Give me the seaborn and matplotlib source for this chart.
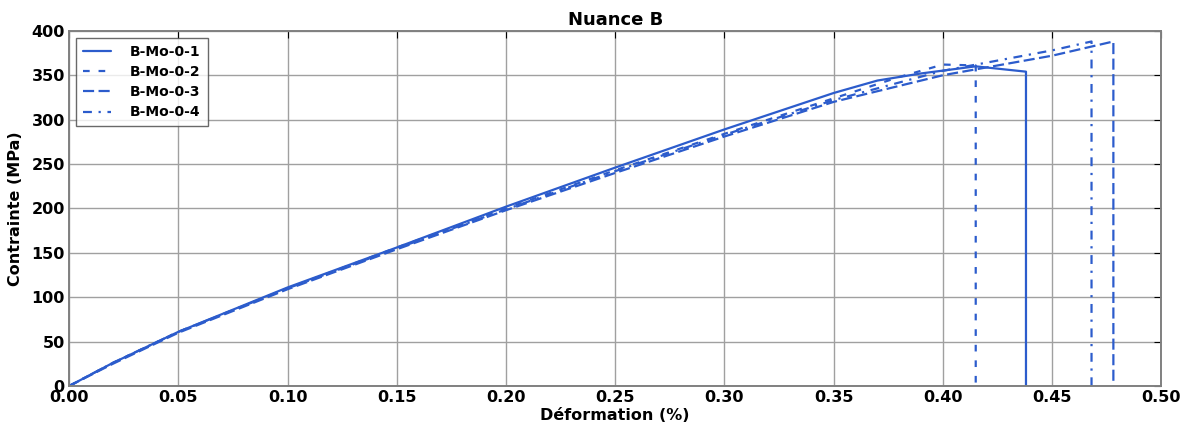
import matplotlib
matplotlib.use("Agg")
import matplotlib.pyplot as plt
import seaborn as sns
import pandas as pd

# ---- data ----
labels = ["B-Mo-0-1", "B-Mo-0-2", "B-Mo-0-3", "B-Mo-0-4"]

strain_1 = [0, 0.02, 0.05, 0.10, 0.15, 0.20, 0.25, 0.30, 0.35, 0.37, 0.39, 0.415, 0.438, 0.438]
stress_1 = [0, 26, 61, 111, 156, 202, 246, 289, 330, 344, 352, 360, 354, 0]

strain_2 = [0, 0.02, 0.05, 0.10, 0.15, 0.20, 0.25, 0.30, 0.35, 0.38, 0.40, 0.415, 0.415]
stress_2 = [0, 26, 61, 110, 156, 200, 243, 284, 324, 348, 362, 361, 0]

strain_3 = [0, 0.02, 0.05, 0.10, 0.15, 0.20, 0.25, 0.30, 0.35, 0.40, 0.45, 0.478, 0.478]
stress_3 = [0, 25, 60, 109, 154, 198, 240, 281, 320, 350, 372, 388, 0]

strain_4 = [0, 0.02, 0.05, 0.10, 0.15, 0.20, 0.25, 0.30, 0.35, 0.40, 0.45, 0.468, 0.468]
stress_4 = [0, 26, 61, 110, 155, 199, 242, 283, 322, 355, 378, 388, 0]

strains = [strain_1, strain_2, strain_3, strain_4]
stresses = [stress_1, stress_2, stress_3, stress_4]
dash_styles = ["-", (0, (3, 4)), (0, (5, 2)), (0, (4, 3, 1, 3))]
color = "#2c5ccc"

sns.set_style("white")
plt.rcParams["font.family"] = ["DejaVu Sans"]
plt.rcParams["font.weight"] = "bold"
plt.rcParams["text.color"] = "black"
plt.rcParams["axes.labelcolor"] = "black"
plt.rcParams["xtick.color"] = "black"
plt.rcParams["ytick.color"] = "black"

fig = plt.figure(figsize=(11.9, 4.28), dpi=100)
ax = fig.add_axes([0.058, 0.098, 0.918, 0.830])

for lab, xs, ys, ls in zip(labels, strains, stresses, dash_styles):
    df = pd.DataFrame({"x": xs, "y": ys})
    sns.lineplot(data=df, x="x", y="y", ax=ax, color=color, linestyle=ls,
                 linewidth=1.6, label=lab, sort=False, estimator=None)

ax.set_xlim(0, 0.5)
ax.set_ylim(0, 400)
ax.set_xticks([i * 0.05 for i in range(11)])
ax.set_xticklabels([f"{i*0.05:.2f}" for i in range(11)])
ax.set_yticks(range(0, 401, 50))
ax.grid(True, color="#a0a0a0", linestyle="-", linewidth=1.0)
ax.tick_params(direction="in", labelsize=11.5, length=5, top=True, right=True, pad=3,
               colors="black")
for t in ax.get_xticklabels() + ax.get_yticklabels():
    t.set_fontweight("bold")
for s in ax.spines.values():
    s.set_color("#808080")
    s.set_linewidth(1.4)

ax.set_xlabel("Déformation (%)", fontsize=11.5, fontweight="bold", labelpad=2, color="black")
ax.set_ylabel("Contrainte (MPa)", fontsize=11.5, fontweight="bold", labelpad=6, color="black")
ax.set_title("Nuance B", fontsize=13, fontweight="bold", pad=4, color="black")

leg = ax.legend(loc="upper left", fontsize=10, handlelength=2.0, frameon=True,
                fancybox=False, borderpad=0.5, labelspacing=0.45, handletextpad=1.4)
leg.get_frame().set_edgecolor("#444444")
leg.get_frame().set_linewidth(1.0)
for t in leg.get_texts():
    t.set_fontweight("bold")
    t.set_color("black")

fig.savefig("out.png", dpi=100, facecolor="white")
